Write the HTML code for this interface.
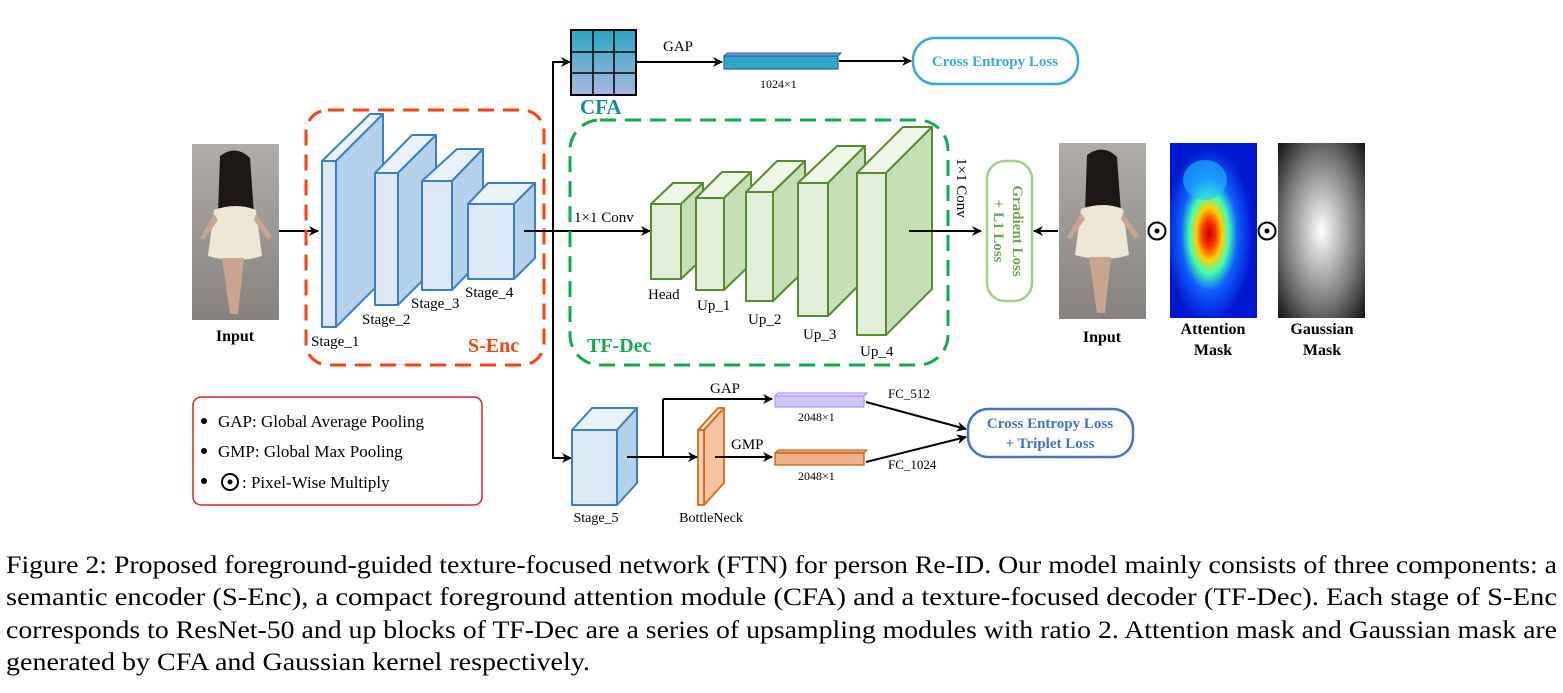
<!DOCTYPE html>
<html><head><meta charset="utf-8"><style>
html,body{margin:0;padding:0;background:#fff;}
svg{display:block;}
text{font-family:"Liberation Serif",serif;}
</style></head><body>
<svg width="1563" height="693" viewBox="0 0 1563 693" xmlns="http://www.w3.org/2000/svg">
<defs>
<marker id="ar" markerWidth="10" markerHeight="10" refX="9" refY="5" orient="auto" markerUnits="userSpaceOnUse"><path d="M0,0 L10,5 L0,10 L3,5 z" fill="#000"/></marker>
<linearGradient id="cfa" x1="0" y1="0" x2="0" y2="1"><stop offset="0" stop-color="#2aa6c2"/><stop offset="1" stop-color="#a9b9e2"/></linearGradient>
<radialGradient id="att" cx="0.45" cy="0.52" r="0.5"><stop offset="0" stop-color="#c00000"/><stop offset="0.15" stop-color="#ff3000"/><stop offset="0.3" stop-color="#ffd000"/><stop offset="0.45" stop-color="#40ffb0"/><stop offset="0.65" stop-color="#1060ff"/><stop offset="1" stop-color="#0018d0"/></radialGradient>
<radialGradient id="gau" cx="0.5" cy="0.5" r="0.75"><stop offset="0" stop-color="#fff"/><stop offset="0.6" stop-color="#707070"/><stop offset="1" stop-color="#000"/></radialGradient>
<linearGradient id="bg" x1="0" y1="0" x2="0" y2="1"><stop offset="0" stop-color="#b0aca8"/><stop offset="1" stop-color="#85827f"/></linearGradient>
<g id="person">
<rect x="0" y="0" width="87" height="176" fill="url(#bg)"/>
<path d="M28,12 Q44,0 58,14 L62,70 Q44,76 26,70 Z" fill="#1c1816"/>
<path d="M22,66 Q44,58 64,66 L70,112 Q44,120 16,112 Z" fill="#ece6d2"/>
<path d="M30,114 L38,170 L46,170 L52,114 Z" fill="#c8a58e"/>
<path d="M22,70 L8,94 L12,96 L26,76 Z M64,70 L80,92 L76,96 L62,76 Z" fill="#c8a58e"/>
</g>
</defs>

<use href="#person" x="192" y="144"/>
<text x="235" y="341" font-size="16" font-weight="bold" text-anchor="middle">Input</text>
<line x1="279" y1="231" x2="318" y2="231" stroke="#000" stroke-width="2" marker-end="url(#ar)"/>

<rect x="306" y="110" width="238" height="255" rx="22" fill="none" stroke="#ff4010" stroke-width="3" stroke-dasharray="16,9"/>
<g stroke="#3c7fc4" stroke-width="2" stroke-linejoin="round">
<polygon points="322,161 370,114 383,114 336,161" fill="#eaf2fb"/>
<polygon points="336,161 383,114 383,280 336,327" fill="#b4d2ec"/>
<rect x="322" y="161" width="14" height="166" fill="#dde9f6"/>
<polygon points="375,173 412,135 436,135 398,173" fill="#eaf2fb"/>
<polygon points="398,173 436,135 436,267 398,305" fill="#b4d2ec"/>
<rect x="375" y="173" width="23" height="132" fill="#dde9f6"/>
<polygon points="422,181 457,149 483,149 452,181" fill="#eaf2fb"/>
<polygon points="452,181 483,149 483,258 452,290" fill="#b4d2ec"/>
<rect x="422" y="181" width="30" height="109" fill="#dde9f6"/>
<polygon points="468,204 488,183 535,183 514,204" fill="#eaf2fb"/>
<polygon points="514,204 535,183 535,258 514,279" fill="#b4d2ec"/>
<rect x="468" y="204" width="46" height="75" fill="#dde9f6"/>
</g>
<g font-size="15">
<text x="311" y="346">Stage_1</text>
<text x="362" y="324">Stage_2</text>
<text x="411" y="308">Stage_3</text>
<text x="465" y="297">Stage_4</text>
</g>
<text x="468" y="352" font-size="20" font-weight="bold" fill="#ff4010">S-Enc</text>

<line x1="524" y1="231" x2="650" y2="231" stroke="#000" stroke-width="2" marker-end="url(#ar)"/>
<polyline points="569,62 553,62 553,458 569,458" fill="none" stroke="#000" stroke-width="2"/>
<line x1="553" y1="62" x2="570" y2="62" stroke="#000" stroke-width="2" marker-end="url(#ar)"/>
<line x1="553" y1="458" x2="571" y2="458" stroke="#000" stroke-width="2" marker-end="url(#ar)"/>
<text x="574" y="222" font-size="15">1×1 Conv</text>

<rect x="571" y="30" width="65" height="65" fill="url(#cfa)" stroke="#000" stroke-width="2"/>
<path d="M593,30V95M614,30V95M571,52H636M571,73H636" stroke="#000" stroke-width="1.5"/>
<text x="580" y="114" font-size="21" font-weight="bold" fill="#14908c">CFA</text>
<text x="663" y="51" font-size="15">GAP</text>
<line x1="636" y1="62" x2="722" y2="62" stroke="#000" stroke-width="2" marker-end="url(#ar)"/>
<polygon points="724,56 727,53 841,53 838,56" fill="#6fa0d8" stroke="#3060a0" stroke-width="1"/>
<rect x="724" y="56" width="114" height="13" fill="#2ea8c6" stroke="#3060a0" stroke-width="1.2"/>
<text x="760" y="88" font-size="12">1024×1</text>
<line x1="839" y1="61" x2="911" y2="61" stroke="#000" stroke-width="2" marker-end="url(#ar)"/>
<rect x="913" y="38" width="165" height="46" rx="22" fill="#fff" stroke="#3aaacc" stroke-width="2.5"/>
<text x="995" y="66" font-size="15" font-weight="bold" fill="#3aaacc" text-anchor="middle">Cross Entropy Loss</text>

<rect x="570" y="120" width="378" height="245" rx="30" fill="none" stroke="#10aa50" stroke-width="3" stroke-dasharray="16,9"/>
<g stroke="#5a8a30" stroke-width="2" stroke-linejoin="round">
<polygon points="651,204 673,183 703,183 681,204" fill="#eef6e8"/>
<polygon points="681,204 703,183 703,258 681,279" fill="#c5e0b4"/>
<rect x="651" y="204" width="30" height="75" fill="#e2efd8"/>
<polygon points="696,198 722,172 751,172 724,198" fill="#eef6e8"/>
<polygon points="724,198 751,172 751,264 724,290" fill="#c5e0b4"/>
<rect x="696" y="198" width="28" height="92" fill="#e2efd8"/>
<polygon points="746,192 777,161 805,161 773,192" fill="#eef6e8"/>
<polygon points="773,192 805,161 805,270 773,301" fill="#c5e0b4"/>
<rect x="746" y="192" width="27" height="109" fill="#e2efd8"/>
<polygon points="798,183 837,146 865,146 828,183" fill="#eef6e8"/>
<polygon points="828,183 865,146 865,279 828,316" fill="#c5e0b4"/>
<rect x="798" y="183" width="30" height="133" fill="#e2efd8"/>
<polygon points="857,173 903,127 932,127 886,173" fill="#eef6e8"/>
<polygon points="886,173 932,127 932,289 886,335" fill="#c5e0b4"/>
<rect x="857" y="173" width="29" height="162" fill="#e2efd8"/>
</g>
<g font-size="15">
<text x="648" y="299">Head</text>
<text x="697" y="310">Up_1</text>
<text x="748" y="324">Up_2</text>
<text x="803" y="339">Up_3</text>
<text x="860" y="356">Up_4</text>
</g>
<text x="587" y="352" font-size="20" font-weight="bold" fill="#10aa50">TF-Dec</text>
<line x1="909" y1="231" x2="981" y2="231" stroke="#000" stroke-width="2" marker-end="url(#ar)"/>
<text transform="translate(957,158) rotate(90)" font-size="15">1×1 Conv</text>
<rect x="987" y="161" width="45" height="140" rx="18" fill="#fff" stroke="#a0d08a" stroke-width="2.5"/>
<text transform="translate(1013,231) rotate(90)" font-size="15" font-weight="bold" fill="#6aa84f" text-anchor="middle">Gradient Loss</text>
<text transform="translate(994,231) rotate(90)" font-size="15" font-weight="bold" fill="#6aa84f" text-anchor="middle">+ L1 Loss</text>
<line x1="1058" y1="231" x2="1034" y2="231" stroke="#000" stroke-width="2" marker-end="url(#ar)"/>

<use href="#person" x="1059" y="143"/>
<circle cx="1157" cy="231" r="8.5" fill="#fff" stroke="#000" stroke-width="2"/><circle cx="1157" cy="231" r="2.5" fill="#000"/>
<rect x="1170" y="143" width="87" height="175" fill="url(#att)"/>
<ellipse cx="1205" cy="180" rx="22" ry="20" fill="#20c0ff" opacity="0.6"/>
<circle cx="1267" cy="231" r="8.5" fill="#fff" stroke="#000" stroke-width="2"/><circle cx="1267" cy="231" r="2.5" fill="#000"/>
<rect x="1278" y="143" width="87" height="175" fill="url(#gau)"/>
<g font-size="16" font-weight="bold" text-anchor="middle">
<text x="1102" y="342">Input</text>
<text x="1213" y="334">Attention</text><text x="1213" y="355">Mask</text>
<text x="1322" y="334">Gaussian</text><text x="1322" y="355">Mask</text>
</g>

<rect x="193" y="397" width="289" height="108" rx="8" fill="#fff" stroke="#e02020" stroke-width="1.5"/>
<g font-size="17">
<circle cx="204" cy="421" r="3"/><text x="218" y="427">GAP: Global Average Pooling</text>
<circle cx="204" cy="451" r="3"/><text x="218" y="457">GMP: Global Max Pooling</text>
<circle cx="204" cy="481" r="3"/>
<circle cx="230" cy="482" r="8" fill="#fff" stroke="#000" stroke-width="2"/><circle cx="230" cy="482" r="2.5"/>
<text x="242" y="488">: Pixel-Wise Multiply</text>
</g>

<g stroke="#3c7fc4" stroke-width="2" stroke-linejoin="round">
<polygon points="572,430 592,408 637,408 617,430" fill="#eaf2fb"/>
<polygon points="617,430 637,408 637,483 617,505" fill="#b4d2ec"/>
<rect x="572" y="430" width="45" height="75" fill="#dde9f6"/>
</g>
<g stroke="#d06a20" stroke-width="1.8" stroke-linejoin="round">
<polygon points="698,430 718,408 724,408 704,430" fill="#fbe0cc"/>
<polygon points="704,430 724,408 724,483 704,505" fill="#f5c3a0"/>
<rect x="698" y="430" width="6" height="75" fill="#f8cfb0"/>
</g>
<polyline points="627,457 663,457 663,399" fill="none" stroke="#000" stroke-width="2"/>
<line x1="663" y1="399" x2="772" y2="399" stroke="#000" stroke-width="2" marker-end="url(#ar)"/>
<line x1="663" y1="457" x2="697" y2="457" stroke="#000" stroke-width="2" marker-end="url(#ar)"/>
<line x1="715" y1="457" x2="772" y2="457" stroke="#000" stroke-width="2" marker-end="url(#ar)"/>
<text x="710" y="393" font-size="15">GAP</text>
<text x="731" y="449" font-size="15">GMP</text>
<polygon points="775,396 778,393 867,393 864,396" fill="#e8d8ff" stroke="#b080f0" stroke-width="1"/>
<rect x="775" y="396" width="89" height="11" fill="#cfc8ff" stroke="#b080f0" stroke-width="1"/>
<polygon points="775,453 778,450 867,450 864,453" fill="#f0a070" stroke="#c05a10" stroke-width="1"/>
<rect x="775" y="453" width="89" height="12" fill="#f2b088" stroke="#c05a10" stroke-width="1.2"/>
<text x="798" y="421" font-size="12">2048×1</text>
<text x="798" y="480" font-size="12">2048×1</text>
<text x="888" y="398" font-size="13">FC_512</text>
<text x="888" y="469" font-size="13">FC_1024</text>
<line x1="866" y1="402" x2="966" y2="429" stroke="#000" stroke-width="2" marker-end="url(#ar)"/>
<line x1="866" y1="462" x2="966" y2="437" stroke="#000" stroke-width="2" marker-end="url(#ar)"/>
<rect x="968" y="409" width="165" height="48" rx="20" fill="#fff" stroke="#4472c4" stroke-width="2.5"/>
<text x="1050" y="428" font-size="15" font-weight="bold" fill="#4472c4" text-anchor="middle">Cross Entropy Loss</text>
<text x="1050" y="448" font-size="15" font-weight="bold" fill="#4472c4" text-anchor="middle">+ Triplet Loss</text>
<text x="596" y="522" font-size="14" text-anchor="middle">Stage_5</text>
<text x="711" y="522" font-size="14" text-anchor="middle">BottleNeck</text>

<g font-size="25">
<text x="6" y="573" textLength="1551" lengthAdjust="spacingAndGlyphs">Figure 2: Proposed foreground-guided texture-focused network (FTN) for person Re-ID. Our model mainly consists of three components: a</text>
<text x="6" y="605" textLength="1551" lengthAdjust="spacingAndGlyphs">semantic encoder (S-Enc), a compact foreground attention module (CFA) and a texture-focused decoder (TF-Dec). Each stage of S-Enc</text>
<text x="6" y="638" textLength="1551" lengthAdjust="spacingAndGlyphs">corresponds to ResNet-50 and up blocks of TF-Dec are a series of upsampling modules with ratio 2. Attention mask and Gaussian mask are</text>
<text x="6" y="670" textLength="584" lengthAdjust="spacingAndGlyphs">generated by CFA and Gaussian kernel respectively.</text>
</g>
</svg>
</body></html>
